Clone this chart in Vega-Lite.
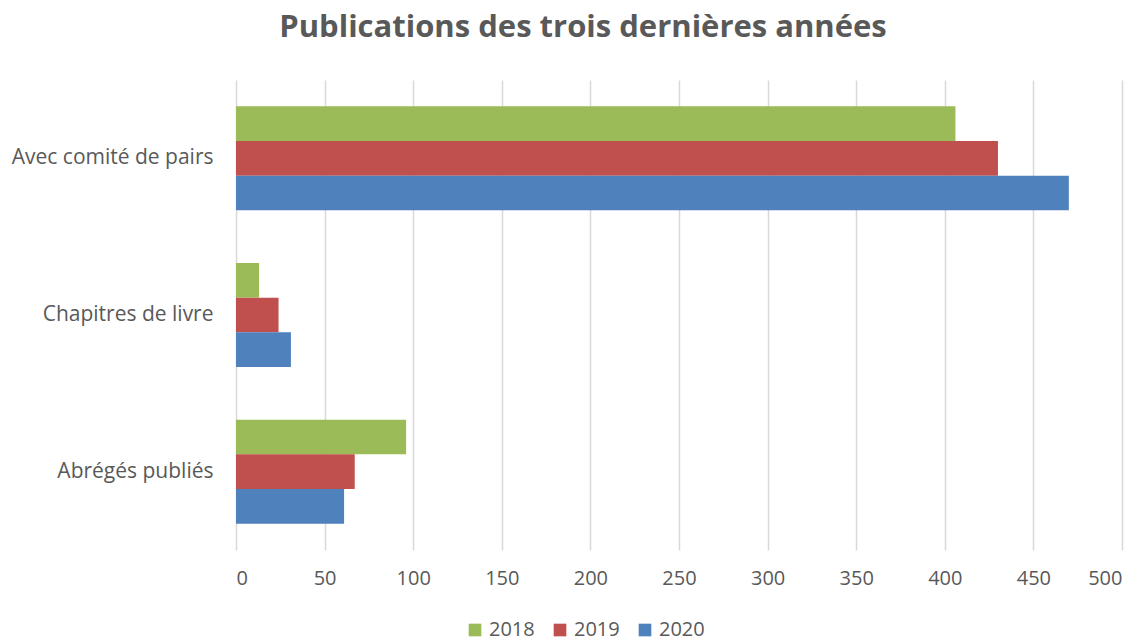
{
  "$schema": "https://vega.github.io/schema/vega-lite/v6.json",
  "width": 886,
  "height": 470,
  "autosize": {"type": "none"},
  "padding": {"left": 236, "top": 80, "right": 26, "bottom": 93},
  "background": "white",
  "title": {
    "text": "Publications des trois dernières années",
    "anchor": "middle",
    "frame": "group",
    "dx": -96,
    "offset": 36,
    "font": "Open Sans",
    "fontSize": 31,
    "fontWeight": "bold",
    "color": "#595959"
  },
  "data": {
    "values": [
      {"category": "Avec comité de pairs", "year": "2018", "value": 406},
      {"category": "Avec comité de pairs", "year": "2019", "value": 430},
      {"category": "Avec comité de pairs", "year": "2020", "value": 470},
      {"category": "Chapitres de livre", "year": "2018", "value": 13},
      {"category": "Chapitres de livre", "year": "2019", "value": 24},
      {"category": "Chapitres de livre", "year": "2020", "value": 31},
      {"category": "Abrégés publiés", "year": "2018", "value": 96},
      {"category": "Abrégés publiés", "year": "2019", "value": 67},
      {"category": "Abrégés publiés", "year": "2020", "value": 61}
    ]
  },
  "mark": {"type": "bar"},
  "encoding": {
    "y": {
      "field": "category",
      "type": "nominal",
      "sort": ["Avec comité de pairs", "Chapitres de livre", "Abrégés publiés"],
      "scale": {"paddingInner": 0.336, "paddingOuter": 0.168},
      "axis": {
        "title": null,
        "domain": false,
        "ticks": false,
        "grid": false,
        "labelPadding": 23,
        "labelLimit": 400,
        "labelFont": "Open Sans",
        "labelFontSize": 21,
        "labelColor": "#595959"
      }
    },
    "yOffset": {
      "field": "year",
      "type": "nominal",
      "sort": ["2018", "2019", "2020"]
    },
    "x": {
      "field": "value",
      "type": "quantitative",
      "scale": {"domain": [0, 500], "nice": false},
      "axis": {
        "title": null,
        "values": [0, 50, 100, 150, 200, 250, 300, 350, 400, 450, 500],
        "domain": false,
        "ticks": false,
        "grid": true,
        "gridColor": "#D9D9D9",
        "gridWidth": 1.5,
        "labelPadding": 18,
        "labelFont": "Open Sans",
        "labelFontSize": 20,
        "labelColor": "#595959"
      }
    },
    "color": {
      "field": "year",
      "type": "nominal",
      "scale": {"domain": ["2018", "2019", "2020"], "range": ["#9BBB59", "#C0504D", "#4F81BD"]},
      "legend": {
        "title": null,
        "orient": "none",
        "direction": "horizontal",
        "legendX": 229,
        "legendY": 540,
        "symbolType": "square",
        "symbolSize": 160,
        "symbolStrokeWidth": 0,
        "symbolOpacity": 1,
        "labelFont": "Open Sans",
        "labelFontSize": 20,
        "labelColor": "#595959",
        "labelOffset": 4,
        "columnPadding": 15
      }
    }
  },
  "config": {"view": {"stroke": null}}
}
